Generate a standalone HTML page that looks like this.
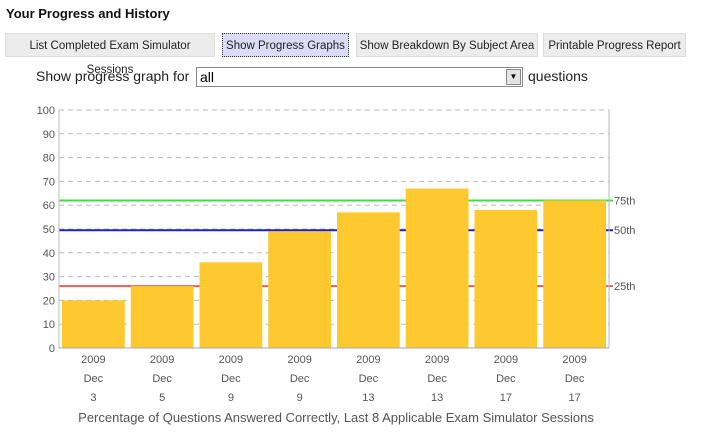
<!DOCTYPE html>
<html><head><meta charset="utf-8"><style>
body{margin:0;width:708px;height:444px;background:#fff;font-family:"Liberation Sans",Tahoma,sans-serif;overflow:hidden;position:relative}
.h{position:absolute;left:6px;top:6px;font-weight:bold;font-size:13px;color:#111}
.btn{position:absolute;top:33px;height:24px;background:#ececec;border:1px solid #ddd;font-size:11.5px;color:#222;line-height:24px;text-align:center;box-sizing:border-box}
.btn.act{background:#dcdcf8;border:1px dotted #333}
.lbl{position:absolute;top:68px;font-size:14px;color:#222}
.sel{position:absolute;left:196px;top:67px;width:327px;height:20px;border:1px solid #888;box-sizing:border-box;font-size:14px;padding-left:3px;line-height:18px}
.arr{position:absolute;right:1px;top:1px;width:15px;height:16px;background:#e4e4e4;border:1px solid #888;box-sizing:border-box;font-size:8px;text-align:center;line-height:14px}
</style></head><body>
<div class="h">Your Progress and History</div>
<div class="btn" style="left:5px;width:210px">List Completed Exam Simulator Sessions</div>
<div class="btn act" style="left:222px;width:127px">Show Progress Graphs</div>
<div class="btn" style="left:356px;width:182px">Show Breakdown By Subject Area</div>
<div class="btn" style="left:543px;width:143px">Printable Progress Report</div>
<div class="lbl" style="left:36px">Show progress graph for</div>
<div class="sel">all<div class="arr">▼</div></div>
<div class="lbl" style="left:528px">questions</div>
<svg id="c" width="708" height="444" style="position:absolute;left:0;top:0"></svg>
<script>
const categories=[["2009","Dec","3"],["2009","Dec","5"],["2009","Dec","9"],["2009","Dec","9"],["2009","Dec","13"],["2009","Dec","13"],["2009","Dec","17"],["2009","Dec","17"]];
const values=[20,26,36,49,57,67,58,62];
const yTicks=[0,10,20,30,40,50,60,70,80,90,100];
const percentiles=[25,50,75];
const percentileValues=[26,49.5,62];
const percentileColors=["#e06060","#2020c0","#40dd40"];
const NS="http://www.w3.org/2000/svg",svg=document.getElementById('c');
const L=59,R=609,T=110,B=348;
const y=v=>B-(v/100)*(B-T);
const slot=(R-L)/values.length;
function mk(t,a,txt){const e=document.createElementNS(NS,t);for(const k in a)e.setAttribute(k,a[k]);if(txt!=null)e.textContent=txt;svg.appendChild(e);return e;}
yTicks.forEach(v=>{
 if(v>0){const g=mk('line',{x1:L,x2:R,y1:y(v),y2:y(v),stroke:'#bbb','stroke-dasharray':'5,4'});
 
 }
 const t=mk('text',{x:L-4,y:y(v)+4,'text-anchor':'end','font-size':11,fill:'#555'},v);
 
 
});
percentileValues.forEach((v,i)=>{
 const l=mk('line',{x1:L,x2:R+4,y1:y(v),y2:y(v),stroke:percentileColors[i],'stroke-width':2});
 
 
 const t=mk('text',{x:R+5,y:y(v)+4,'font-size':11,fill:'#555'},percentiles[i]+'th');
 
 
});
values.forEach((v,i)=>{
 const x=L+i*slot+3;
 const r=mk('rect',{x:x,y:y(v),width:slot-6,height:B-y(v),fill:'#fdc92f'});
 
 
 categories[i].forEach((s,j)=>{
  const t=mk('text',{x:L+(i+0.5)*slot,y:B+15+j*19,'text-anchor':'middle','font-size':11,fill:'#555'},s);
  
  
 });
});
const ax=mk('line',{x1:L,x2:L,y1:T,y2:B,stroke:'#bbb'});


const ax2=mk('line',{x1:R,x2:R,y1:T,y2:B,stroke:'#bbb'});


const xb=mk('line',{x1:L,x2:R,y1:B,y2:B,stroke:'#aaa'});


const tt=mk('text',{x:336,y:422,'text-anchor':'middle','font-size':13,fill:'#555'},'Percentage of Questions Answered Correctly, Last 8 Applicable Exam Simulator Sessions');


</script>
</body></html>
